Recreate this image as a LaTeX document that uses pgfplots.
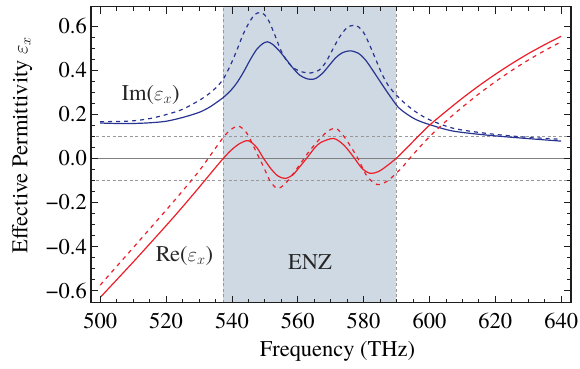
\documentclass[border=0pt]{standalone}
\usepackage{fontspec}
\IfFontExistsTF{texgyretermes-regular.otf}
  {\setmainfont{texgyretermes-regular.otf}[ItalicFont=texgyretermes-italic.otf, BoldFont=texgyretermes-bold.otf]}
  {\setmainfont{Liberation Serif}}
\usepackage{pgfplots}
\pgfplotsset{compat=1.18}
\definecolor{imblue}{RGB}{40,52,145}
\definecolor{rered}{RGB}{236,30,40}
\definecolor{shade}{RGB}{207,217,227}
\definecolor{frame}{RGB}{30,30,30}
\begin{document}
\fontsize{22.5}{27}\selectfont
\begin{tikzpicture}
\path[use as bounding box] (-91pt,-65.3pt) rectangle (489pt,302.7pt);
\begin{axis}[
  scale only axis, width=480pt, height=296pt,
  xmin=497.2, xmax=643, ymin=-0.654, ymax=0.687,
  axis line style={line width=1.2pt, frame},
  tick style={line width=0.8pt, frame},
  major tick length=7pt, minor tick length=4pt,
  tick align=inside,
  xtick={500,520,...,640}, xticklabels={500,520,540,560,580,600,620,640},
  ytick={-0.6,-0.4,-0.2,0,0.2,0.4,0.6},
  yticklabels={−0.6,−0.4,−0.2,0.0,0.2,0.4,0.6},
  minor x tick num=3, minor y tick num=3,
  xticklabel style={inner sep=0pt, anchor=north, yshift=-10pt},
  yticklabel style={inner sep=0pt, anchor=east, xshift=-4pt},
  axis on top,
  xlabel={Frequency (THz)},
  ylabel={Effective Permittivity $\varepsilon_x$},
  every axis x label/.style={at={(axis description cs:0.5135,-0.1834)}, anchor=base},
  every axis y label/.style={at={(axis description cs:-0.1323,0.5327)}, rotate=90, anchor=base},
]
% ENZ band
\addplot[fill=shade, draw=none] coordinates {(537.4,-0.654) (589.8,-0.654) (589.8,0.687) (537.4,0.687)} -- cycle;
\addplot[gray!80, line width=0.7pt, dash pattern=on 3pt off 2.5pt] coordinates {(537.4,-0.654) (537.4,0.687)};
\addplot[gray!80, line width=0.7pt, dash pattern=on 3pt off 2.5pt] coordinates {(589.8,-0.654) (589.8,0.687)};
% reference lines
\addplot[gray, line width=0.8pt] coordinates {(497.2,0) (643,0)};
\addplot[gray!80, line width=0.7pt, dash pattern=on 3pt off 2.5pt] coordinates {(497.2,0.1) (643,0.1)};
\addplot[gray!80, line width=0.7pt, dash pattern=on 3pt off 2.5pt] coordinates {(497.2,-0.1) (643,-0.1)};
% Im solid
\addplot[imblue, line width=1.2pt, smooth] coordinates {
(500,0.160) (505,0.158) (510,0.158) (515,0.161) (520,0.168) (525,0.185) (530,0.208) (533,0.230)
(535.5,0.255) (537.4,0.276) (539.5,0.305) (541.5,0.342) (543.5,0.39) (545.5,0.445) (547.5,0.493)
(549.3,0.519) (550.8,0.528) (552.5,0.515) (554.5,0.485) (556.5,0.448) (558.5,0.41) (560.5,0.378)
(562.5,0.362) (564,0.358) (565.5,0.362) (567.5,0.385) (569.5,0.42) (571.5,0.455) (573.5,0.478)
(576,0.487) (578.5,0.475) (580.5,0.447) (582.5,0.405) (584.5,0.36) (586.5,0.315) (588.5,0.272)
(590.5,0.232) (593,0.202) (596,0.175) (600,0.153) (607,0.124) (617,0.106) (627,0.093) (640,0.078)};
% Im dashed
\addplot[imblue, line width=1.2pt, smooth, dash pattern=on 4pt off 4pt] coordinates {
(500,0.166) (505,0.167) (510,0.170) (515,0.180) (520,0.198) (525,0.222) (530,0.262) (533,0.292)
(535.5,0.325) (537.5,0.362) (539.5,0.42) (541.5,0.49) (543.5,0.565) (545.5,0.622) (547,0.652)
(548.4,0.660) (549.8,0.652) (551.3,0.62) (553,0.56) (555,0.485) (557,0.435) (559,0.407)
(561.2,0.392) (564,0.387) (566.5,0.40) (568.5,0.435) (570.5,0.49) (572.5,0.545) (574.5,0.585)
(576,0.600) (577.2,0.603) (578.5,0.595) (580,0.57) (581.5,0.525) (583.5,0.455) (585.5,0.385)
(587.5,0.33) (589.9,0.287) (593,0.243) (596.2,0.207) (600,0.175) (607.3,0.136) (617.4,0.113)
(627.5,0.098) (640,0.086)};
% Re solid
\addplot[rered, line width=1.2pt, smooth] coordinates {
(500,-0.630) (510,-0.470) (520,-0.305) (525,-0.220) (530,-0.132) (534,-0.060) (537.4,0.0)
(540,0.040) (542.5,0.068) (545,0.080) (547.5,0.05) (549.6,0.0) (552,-0.05) (554,-0.08)
(556.2,-0.091) (558.5,-0.075) (560.5,-0.04) (562.7,0.0) (565,0.045) (567,0.072) (570.9,0.09)
(574,0.06) (576.9,0.007) (579.5,-0.045) (582,-0.068) (584.5,-0.06) (587,-0.035) (589.9,0.0)
(593,0.045) (596,0.091) (600,0.150) (605,0.2125) (610,0.2725) (615,0.3285) (620,0.3805)
(625,0.429) (630,0.474) (635,0.515) (640,0.553)};
% Re dashed
\addplot[rered, line width=1.2pt, smooth, dash pattern=on 4pt off 4.5pt] coordinates {
(500,-0.574) (510,-0.405) (520,-0.235) (525,-0.148) (530,-0.058) (534,0.025) (537.4,0.095)
(539.5,0.128) (542,0.146) (544.5,0.115) (547.1,0.038) (549.6,-0.038) (551.5,-0.10) (553.7,-0.136)
(556,-0.118) (558.7,-0.068) (561,-0.02) (563.8,0.038) (568.3,0.113) (571.4,0.136) (574,0.10)
(578,0.007) (581,-0.08) (584,-0.118) (587,-0.105) (589.9,-0.068) (592,-0.036) (594,0.0)
(597,0.05) (600,0.098) (605,0.168) (610,0.232) (615,0.292) (620,0.347) (625,0.398)
(630,0.445) (635,0.488) (640,0.528)};
\node[anchor=base, text=black!85] at (axis cs:515.3,0.264) {Im($\varepsilon_x$)};
\node[anchor=base, text=black!85] at (axis cs:525.6,-0.468) {Re($\varepsilon_x$)};
\node[anchor=base, text=black!85] at (axis cs:563.7,-0.503) {ENZ};
\end{axis}
\end{tikzpicture}
\end{document}
